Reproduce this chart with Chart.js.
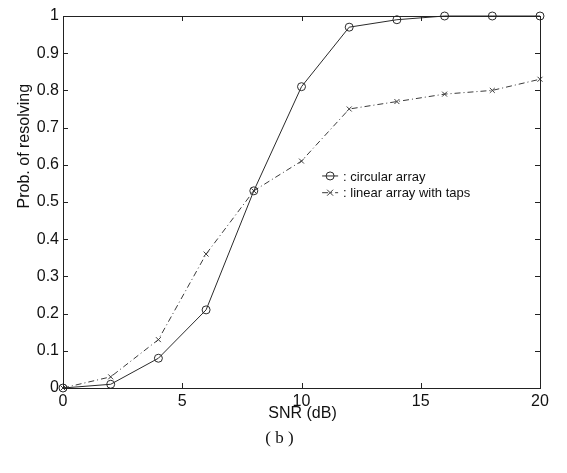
<!DOCTYPE html>
<html><head><meta charset="utf-8">
<script src="https://cdn.jsdelivr.net/npm/chart.js@4/dist/chart.umd.min.js"></script>
<style>
html,body{margin:0;padding:0;background:#fff;}
#wrap{position:relative;width:567px;height:473px;}
#cap{position:absolute;left:0;width:567px;top:428px;text-align:center;font-family:"Liberation Serif","DejaVu Serif",serif;font-size:17px;color:#111;}
#cap span{position:relative;left:-4px;}
</style></head>
<body><div id="wrap"><canvas id="c" width="567" height="473"></canvas><div id="cap"><span>( b )</span></div></div>
<script>
const snr = [0, 2, 4, 6, 8, 10, 12, 14, 16, 18, 20];
const circularArray = [0.0, 0.01, 0.08, 0.21, 0.53, 0.81, 0.97, 0.99, 1.0, 1.0, 1.0];
const linearArrayTaps = [0.0, 0.03, 0.13, 0.36, 0.53, 0.61, 0.75, 0.77, 0.79, 0.80, 0.83];
const xTicks = [0, 5, 10, 15, 20];
const yTicks = [0, 0.1, 0.2, 0.3, 0.4, 0.5, 0.6, 0.7, 0.8, 0.9, 1];
const seriesNames = ['circular array', 'linear array with taps'];
const xTitle = 'SNR (dB)';
const yTitle = 'Prob. of resolving';

const FONT = '"Liberation Sans", Arial, sans-serif';

const framePlugin = {
  id: 'frame',
  afterDatasetsDraw(chart) {
    const ctx = chart.ctx, a = chart.chartArea;
    const xs = chart.scales.x, ys = chart.scales.y;
    ctx.save();
    ctx.strokeStyle = '#222';
    ctx.lineWidth = 1;
    ctx.strokeRect(a.left + 0.5, a.top + 0.5, a.right - a.left, a.bottom - a.top);
    const tl = 5;
    ctx.beginPath();
    xTicks.forEach(v => {
      const p = Math.round(xs.getPixelForValue(v)) + 0.5;
      ctx.moveTo(p, a.bottom); ctx.lineTo(p, a.bottom - tl);
      ctx.moveTo(p, a.top); ctx.lineTo(p, a.top + tl);
    });
    yTicks.forEach(v => {
      const p = Math.round(ys.getPixelForValue(v)) + 0.5;
      ctx.moveTo(a.left, p); ctx.lineTo(a.left + tl, p);
      ctx.moveTo(a.right, p); ctx.lineTo(a.right - tl, p);
    });
    ctx.stroke();

    // axis titles
    ctx.fillStyle = '#111';
    ctx.font = '16px ' + FONT;
    ctx.textAlign = 'center';
    ctx.textBaseline = 'middle';
    ctx.fillText(xTitle, (a.left + a.right) / 2 + 1, a.bottom + 26);
    ctx.save();
    ctx.translate(25, a.top + (a.bottom - a.top) * 0.35);
    ctx.rotate(-Math.PI / 2);
    ctx.fillText(yTitle, 0, 0);
    ctx.restore();

    // legend inside the plot
    const lx = xs.getPixelForValue(11.2);
    const rows = [ys.getPixelForValue(0.57), ys.getPixelForValue(0.525)];
    ctx.font = '13px ' + FONT;
    ctx.textAlign = 'left';
    rows.forEach((y, i) => {
      const ds = chart.data.datasets[i];
      ctx.strokeStyle = ds.borderColor;
      ctx.setLineDash(ds.borderDash || []);
      ctx.beginPath(); ctx.moveTo(lx - 8, y); ctx.lineTo(lx + 8, y); ctx.stroke();
      ctx.setLineDash([]);
      ctx.beginPath();
      if (i === 0) {
        ctx.arc(lx, y, 4, 0, Math.PI * 2);
      } else {
        ctx.moveTo(lx - 3, y - 3); ctx.lineTo(lx + 3, y + 3);
        ctx.moveTo(lx - 3, y + 3); ctx.lineTo(lx + 3, y - 3);
      }
      ctx.stroke();
      ctx.fillStyle = '#111';
      ctx.fillText(': ' + seriesNames[i], lx + 13, y + 1);
    });
    ctx.restore();
  }
};

new Chart(document.getElementById('c'), {
  type: 'line',
  data: {
    datasets: [
      {
        label: seriesNames[0],
        data: snr.map((x, i) => ({x, y: circularArray[i]})),
        borderColor: '#2a2a2a', borderWidth: 1, clip: false,
        pointStyle: 'circle', pointRadius: 4, pointBorderWidth: 1,
        pointBackgroundColor: 'rgba(0,0,0,0)', pointBorderColor: '#2a2a2a',
        tension: 0
      },
      {
        label: seriesNames[1],
        data: snr.map((x, i) => ({x, y: linearArrayTaps[i]})),
        borderColor: '#3a3a3a', borderWidth: 1, borderDash: [6, 3, 1, 3], clip: false,
        pointStyle: 'crossRot', pointRadius: 3.5, pointBorderWidth: 1,
        pointBorderColor: '#3a3a3a',
        tension: 0
      }
    ]
  },
  options: {
    responsive: false,
    animation: false,
    events: [],
    layout: {padding: {top: 16, right: 27, left: 0, bottom: 0}},
    plugins: {legend: {display: false}, tooltip: {enabled: false}},
    scales: {
      x: {
        type: 'linear', min: 0, max: 20,
        afterBuildTicks: s => { s.ticks = xTicks.map(v => ({value: v})); },
        afterFit: s => { s.height = 85; },
        grid: {display: false, drawTicks: false},
        border: {display: false},
        ticks: {padding: 4, color: '#111', font: {family: FONT, size: 16}, maxRotation: 0, callback: v => String(v)}
      },
      y: {
        type: 'linear', min: 0, max: 1,
        afterBuildTicks: s => { s.ticks = yTicks.map(v => ({value: v})); },
        afterFit: s => { s.width = 63; },
        grid: {display: false, drawTicks: false},
        border: {display: false},
        ticks: {padding: 4, color: '#111', font: {family: FONT, size: 16}, callback: v => String(Math.round(v * 10) / 10)}
      }
    }
  },
  plugins: [framePlugin]
});
</script>
</body></html>
